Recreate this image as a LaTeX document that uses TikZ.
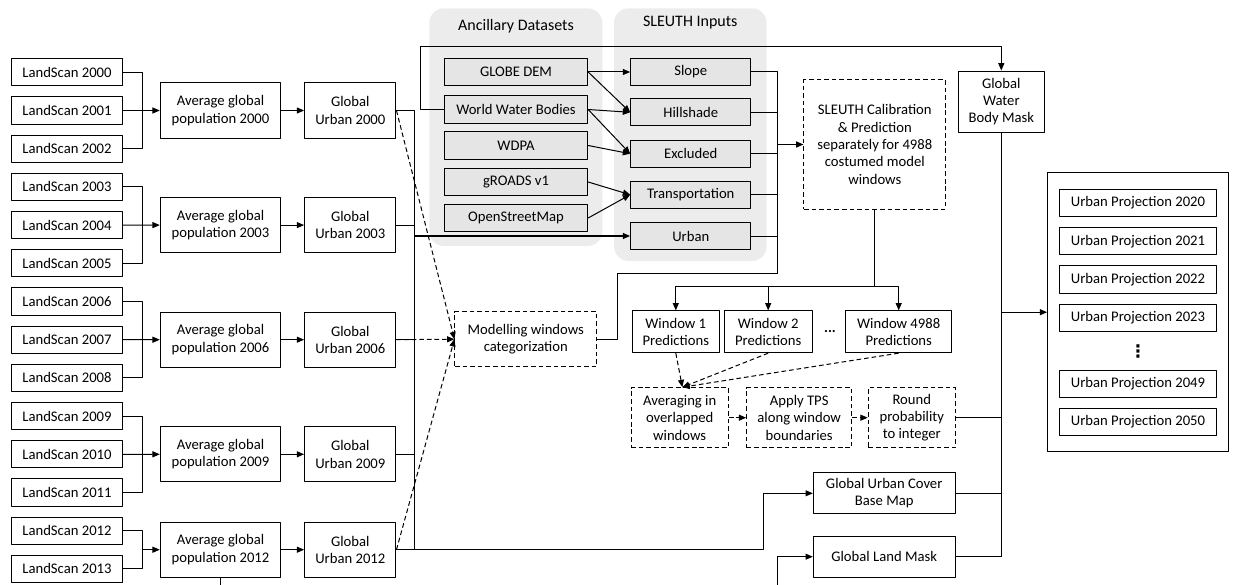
\documentclass[tikz,border=0pt]{standalone}
\usepackage{fontspec}
\setmainfont{Carlito}
\newfontfamily\symfont{DejaVu Sans}
\usepackage{tikz}
\usetikzlibrary{arrows.meta,calc}
\usetikzlibrary{positioning}
\tikzset{box/.style={draw,line width=0.75pt,inner sep=0pt,align=center,minimum height=20.5pt},
  dbox/.style={box,dash pattern=on 3.5pt off 2.2pt},
  lsbox/.style={box,minimum width=83pt},
  avgbox/.style={box,minimum width=90.3pt,minimum height=41.25pt},
  gubox/.style={box,minimum width=68.5pt,minimum height=41.25pt},
  ancbox/.style={box,fill=gray!20,minimum width=107.5pt},
  inbox/.style={box,fill=gray!20,minimum width=90.2pt},
  upbox/.style={box,minimum width=118pt},
  winbox/.style={box,minimum height=31.3pt},
  stepbox/.style={dbox,minimum height=45pt},
  panel/.style={fill=gray!15,rounded corners=11pt},
  ptitle/.style={font=\fontsize{12}{14}\selectfont},
  conn/.style={line width=0.75pt},
  arr/.style={conn,-{Triangle[length=5.5pt,width=4.5pt]}},
  darr/.style={arr,dash pattern=on 3.5pt off 2.2pt}}

\begin{document}
\begin{tikzpicture}[x=0.75pt,y=-0.75pt,line join=round,font=\fontsize{11}{13}\selectfont]
\useasboundingbox (0,0) rectangle (1235,585);
% --- LandScan years, averages and global urban maps
\foreach \i in {0,...,13}{\pgfmathtruncatemacro\yr{2000+\i}
  \node[lsbox] (ls\yr) at (67,{72.3+38.2*\i}) {LandScan \yr};}
\foreach \g/\yr in {0/2000,1/2003,2/2006,3/2009}{
  \pgfmathtruncatemacro\yb{\yr+1}\pgfmathtruncatemacro\yc{\yr+2}
  \node[avgbox] (avg\yr) at (220.5,{110.5+114.6*\g}) {Average global\\population \yr};
  \node[gubox] (gu\yr) at (350.3,{110.5+114.6*\g}) {Global\\Urban \yr};
  \draw[conn] (ls\yr.east) -- ++(14.5pt,0) |- (ls\yc.east);
  \draw[arr] (ls\yb.east) -- (avg\yr.west);
  \draw[arr] (avg\yr.east) -- (gu\yr.west);}
\node[avgbox] (avg2012) at (220.5,549.7) {Average global\\population 2012};
\node[gubox] (gu2012) at (350.3,549.7) {Global\\Urban 2012};
\draw[conn] (ls2012.east) -- ++(14.5pt,0) |- (ls2013.east);
\draw[arr] ([xshift=14.5pt]ls2012.east |- avg2012.west) -- (avg2012.west);
\draw[arr] (avg2012.east) -- (gu2012.west);
\coordinate (abot) at (220.5,585);
\draw[conn] (avg2012.south) -- (abot);
% --- panels of ancillary data and SLEUTH inputs
\fill[panel] (429.3,8.3) rectangle (602.3,246);
\fill[panel] (614,8.3) rectangle (766.7,261);
\node[ptitle] (anctitle) at (516,26) {Ancillary Datasets};
\node[ptitle] (inptitle) at (690.3,23) {SLEUTH Inputs};
\foreach \n/\t/\y in {dem/GLOBE DEM/72,wwb/World Water Bodies/109.5,wdpa/WDPA/145.5,groads/gROADS v1/182,osm/OpenStreetMap/218}
  \node[ancbox] (\n) at (516,\y) {\t};
\foreach \n/\t/\y in {slope/Slope/72,hill/Hillshade/112.3,excl/Excluded/153.7,trans/Transportation/194.7,urb/Urban/236}
  \node[inbox] (\n) at (690.8,\y) {\t};
\draw[arr] (dem.east) -- (slope.west); \draw[arr] (dem.east) -- (hill.west);
\draw[arr] (wwb.east) -- (hill.west); \draw[arr] (wwb.east) -- (excl.west);
\draw[arr] (wdpa.east) -- (excl.west);
\draw[arr] (groads.east) -- (trans.west); \draw[arr] (osm.east) -- (trans.west);
% --- trunk of global urban maps
\coordinate (tr) at (414.3,0);
\draw[conn] (gu2000.east) -| (tr |- gu2012.east);
\foreach \yr in {2003,2006,2009} \draw[conn] (gu\yr.east) -- (gu\yr.east -| tr);
\draw[arr,line width=1pt] (tr |- urb.west) -- (urb.west);
% --- modelling windows
\node[dbox,minimum width=106.3pt,minimum height=41.25pt] (model) at (525.8,339.2) {Modelling windows\\categorization};
\draw[darr] (gu2000.east) -- (model.west);
\draw[darr] (gu2006.east) -- (model.west);
\draw[darr] (gu2012.east) -- (model.west);
% --- calibration and window predictions
\node[dbox,minimum width=106.3pt,minimum height=96.75pt] (calib) at (874.8,144.5) {SLEUTH Calibration\\\& Prediction\\separately for 4988\\costumed model\\windows};
\coordinate (colbot) at (777.7,273.3);
\draw[conn] (model.east) -- ++(15pt,0) |- (colbot);
\draw[conn] (slope.east) -| (colbot);
\foreach \n in {hill,excl,trans,urb} \draw[conn] (\n.east) -- (\n.east -| colbot);
\draw[arr,line width=1pt] (colbot |- calib.west) -- (calib.west);
\node[winbox,minimum width=65.3pt] (win1) at (675.8,331.8) {Window 1\\Predictions};
\node[winbox,minimum width=65.8pt] (win2) at (768.2,331.8) {Window 2\\Predictions};
\node[winbox,minimum width=79.5pt] (win3) at (898.7,331.8) {Window 4988\\Predictions};
\node (wdots) at (830,331.7) {\textbf{...}};
\coordinate (wbus) at (874.8,286);
\draw[conn] (calib.south) -- (wbus);
\foreach \n in {win1,win2,win3} \draw[arr] (wbus) -| (\n.north);
% --- post-processing
\node[stepbox,minimum width=73pt] (avgw) at (679.7,417.7) {Averaging in\\overlapped\\windows};
\node[stepbox,minimum width=78.8pt] (tps) at (799.2,417.7) {Apply TPS\\along window\\boundaries};
\node[stepbox,minimum width=65.3pt] (round) at (911.8,417.7) {Round\\probability\\to integer};
\foreach \n in {win1,win2,win3} \draw[darr] (\n.south) -- ([xshift=2pt]avgw.north);
\draw[darr] (avgw.east) -- (tps.west); \draw[darr] (tps.east) -- (round.west);
% --- masks and base map
\node[box,minimum width=64.5pt,minimum height=46pt] (water) at (1001.3,101.7) {Global\\Water\\Body Mask};
\node[box,minimum width=106.3pt,minimum height=31pt] (base) at (884.2,493.3) {Global Urban Cover\\Base Map};
\node[box,minimum width=106.3pt,minimum height=31pt] (land) at (884.2,556.7) {Global Land Mask};
\coordinate (wtop) at (420.7,46.7);
\draw[arr] (wwb.west) -| (wtop) -| (water.north);
\coordinate (jb) at (763.3,0);
\draw[arr] (gu2012.east) -- (gu2012.east -| jb) |- (base.west);
\coordinate (lmin) at (777.7,585);
\draw[arr] (lmin) |- (land.west);
\draw[conn] (water.south) -- (water.south |- land.east);
\foreach \n in {round,base,land} \draw[conn] (\n.east) -- (\n.east -| water.south);
% --- urban projections
\node[box,minimum width=135.5pt,minimum height=209.25pt] (proj) at (1138,312.2) {};
\foreach \yr/\y in {2020/203,2021/241.3,2022/279.5,2023/318,2049/383.7,2050/422}
  \node[upbox] (up\yr) at (1138,\y) {Urban Projection \yr};
\node[font=\symfont\bfseries\fontsize{13}{13}\selectfont] (vdots) at (1138,351.7) {⋮};
\draw[arr,line width=1pt] (water.south |- proj.west) -- (proj.west);
\end{tikzpicture}
\end{document}
